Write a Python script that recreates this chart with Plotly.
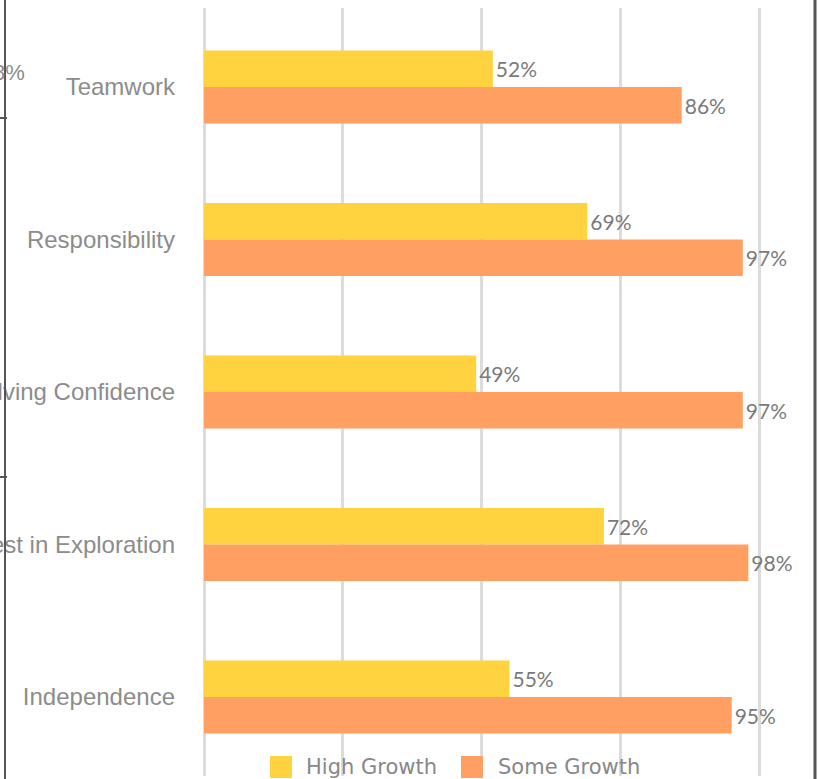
import plotly.graph_objects as go

categories = ["Teamwork", "Responsibility", "Problem-Solving Confidence",
              "Interest in Exploration", "Independence"]
high_growth = [52, 69, 49, 72, 55]
some_growth = [86, 97, 97, 98, 95]
series_names = ["High Growth", "Some Growth"]
colors = ["#FFD23F", "#FF9F62"]

W, H = 818, 779
L, R, T, B = 204, 3, 8, 3
PW, PH = W - L - R, H - T - B


def px_x(px):
    return (px - L) / PW


def px_y(py):
    return (H - B - py) / PH


fig = go.Figure()
for name, vals, col in zip(series_names, [high_growth, some_growth], colors):
    fig.add_trace(go.Bar(
        y=categories, x=vals, orientation="h", name=name,
        marker=dict(color=col, line=dict(width=0)),
        text=[f"{v}%" for v in vals], textposition="outside",
        textfont=dict(family="Lato", size=21, color="#7a7a7a"),
        cliponaxis=False,
    ))

shapes = [
    # neighbouring chart axis on the left
    dict(type="line", xref="paper", yref="paper", x0=px_x(5), x1=px_x(5),
         y0=px_y(0), y1=px_y(779), line=dict(color="#555555", width=2)),
    dict(type="line", xref="paper", yref="paper", x0=px_x(0), x1=px_x(7),
         y0=px_y(118), y1=px_y(118), line=dict(color="#555555", width=2)),
    dict(type="line", xref="paper", yref="paper", x0=px_x(0), x1=px_x(7),
         y0=px_y(477), y1=px_y(477), line=dict(color="#555555", width=2)),
    # right border
    dict(type="line", xref="paper", yref="paper", x0=px_x(815), x1=px_x(815),
         y0=px_y(0), y1=px_y(779), line=dict(color="#555555", width=3)),
]

annotations = [
    dict(text="8%", xref="paper", yref="paper", x=px_x(27), y=px_y(72),
         xanchor="right", yanchor="middle", showarrow=False,
         font=dict(family="Liberation Sans", size=22, color="#8c8c8c")),
]

# manual legend
leg_items = [(270, 304), (461, 496)]
for (sx, tx), name, col in zip(leg_items, series_names, colors):
    shapes.append(dict(type="rect", xref="paper", yref="paper",
                       x0=px_x(sx), x1=px_x(sx + 22), y0=px_y(778), y1=px_y(756),
                       fillcolor=col, line=dict(width=0)))
    annotations.append(dict(text=name, xref="paper", yref="paper",
                            x=px_x(tx), y=px_y(767), xanchor="left", yanchor="middle",
                            showarrow=False,
                            font=dict(family="DejaVu Sans", size=21, color="#888888")))

fig.update_layout(
    width=W, height=H,
    margin=dict(l=L, r=R, t=T, b=B, autoexpand=False),
    paper_bgcolor="white", plot_bgcolor="white",
    barmode="group", bargap=0.52, bargroupgap=0,
    showlegend=False,
    shapes=shapes, annotations=annotations,
    xaxis=dict(range=[0, 110], tickvals=[0, 25, 50, 75, 100], showticklabels=False,
               showgrid=True, gridcolor="#dcdcdc", gridwidth=2.5,
               zeroline=True, zerolinecolor="#dcdcdc", zerolinewidth=2.5,
               showline=False, fixedrange=True),
    yaxis=dict(type="category", range=[4.518, -0.518], showgrid=False,
               zeroline=False, showline=False, automargin=False,
               ticks="", ticklabelstandoff=28,
               tickfont=dict(family="Liberation Sans", size=24, color="#8c8c8c")),
)

fig.write_html("out.html",
               config={"displayModeBar": False},
               post_script="document.body.style.margin='0px';"
                           "document.body.style.overflow='hidden';")
